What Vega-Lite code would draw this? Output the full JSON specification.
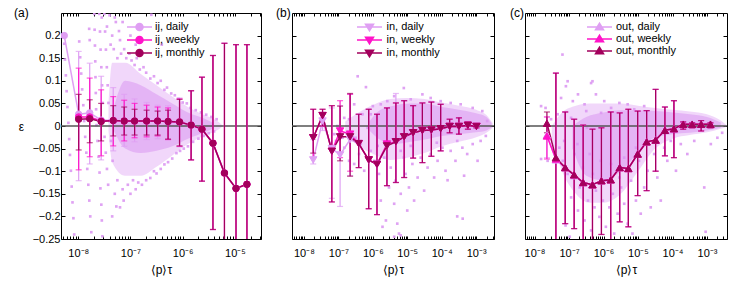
{
"$schema":"https://vega.github.io/schema/vega-lite/v6.json",
"padding":{"left":13,"top":6,"right":5,"bottom":5},
"bounds":"flush",
"spacing":31,
"resolve":{"scale":{"fill":"independent","stroke":"independent"},"legend":{"fill":"independent","stroke":"independent"}},
"config":{"font":"Liberation Sans","view":{"stroke":"#000","strokeWidth":1},
"axis":{"domain":false,"grid":false,"tickColor":"#000","tickWidth":1,"labelColor":"#000","labelFontSize":11,"titleFontSize":12,"titleFontWeight":"normal","titleColor":"#000","labelOverlap":false},
"title":{"fontSize":12,"fontWeight":"normal","anchor":"start","color":"#000","frame":"group"},
"legend":{"labelFontSize":11,"labelColor":"#000","padding":0,"rowPadding":-4,"symbolSize":100,"symbolStrokeWidth":1.5,"symbolOpacity":1}},
"datasets":{
"a_s":[
{"s":"ij, daily","x":5.4e-9,"y":0.2,"lo":null,"hi":null},
{"s":"ij, daily","x":1.02e-8,"y":0.026,"lo":-0.121,"hi":0.165},
{"s":"ij, daily","x":1.66e-8,"y":0.029,"lo":-0.084,"hi":0.139},
{"s":"ij, daily","x":2.75e-8,"y":0.013,"lo":-0.075,"hi":0.11},
{"s":"ij, daily","x":4.68e-8,"y":0.012,"lo":-0.055,"hi":0.085},
{"s":"ij, daily","x":7.59e-8,"y":0.011,"lo":-0.045,"hi":0.07},
{"s":"ij, daily","x":1.2e-7,"y":0.011,"lo":-0.035,"hi":0.06},
{"s":"ij, daily","x":2.04e-7,"y":0.011,"lo":-0.03,"hi":0.052},
{"s":"ij, daily","x":3.31e-7,"y":0.011,"lo":-0.028,"hi":0.046},
{"s":"ij, daily","x":5.25e-7,"y":0.01,"lo":-0.03,"hi":0.045},
{"s":"ij, daily","x":8.71e-7,"y":0.009,"lo":-0.046,"hi":0.062},
{"s":"ij, daily","x":1.45e-6,"y":0.002,"lo":-0.075,"hi":0.078},
{"s":"ij, daily","x":2.34e-6,"y":-0.007,"lo":-0.122,"hi":0.108},
{"s":"ij, daily","x":3.8e-6,"y":-0.038,"lo":-0.229,"hi":0.156},
{"s":"ij, daily","x":6.31e-6,"y":-0.104,"lo":-0.4,"hi":0.183},
{"s":"ij, daily","x":1.05e-5,"y":-0.138,"lo":-0.45,"hi":0.18},
{"s":"ij, daily","x":1.7e-5,"y":-0.129,"lo":-0.44,"hi":0.18},
{"s":"ij, weekly","x":1.02e-8,"y":0.02,"lo":-0.097,"hi":0.128},
{"s":"ij, weekly","x":1.66e-8,"y":0.02,"lo":-0.068,"hi":0.106},
{"s":"ij, weekly","x":2.75e-8,"y":0.011,"lo":-0.066,"hi":0.08},
{"s":"ij, weekly","x":4.68e-8,"y":0.012,"lo":-0.044,"hi":0.065},
{"s":"ij, weekly","x":7.59e-8,"y":0.011,"lo":-0.033,"hi":0.057},
{"s":"ij, weekly","x":1.2e-7,"y":0.011,"lo":-0.026,"hi":0.05},
{"s":"ij, weekly","x":2.04e-7,"y":0.011,"lo":-0.024,"hi":0.046},
{"s":"ij, weekly","x":3.31e-7,"y":0.011,"lo":-0.022,"hi":0.042},
{"s":"ij, weekly","x":5.25e-7,"y":0.01,"lo":-0.03,"hi":0.04},
{"s":"ij, weekly","x":8.71e-7,"y":0.009,"lo":-0.045,"hi":0.06},
{"s":"ij, weekly","x":1.45e-6,"y":0.002,"lo":-0.075,"hi":0.078},
{"s":"ij, weekly","x":2.34e-6,"y":-0.007,"lo":-0.122,"hi":0.108},
{"s":"ij, weekly","x":3.8e-6,"y":-0.038,"lo":-0.229,"hi":0.156},
{"s":"ij, weekly","x":6.31e-6,"y":-0.104,"lo":-0.4,"hi":0.183},
{"s":"ij, weekly","x":1.05e-5,"y":-0.138,"lo":-0.45,"hi":0.18},
{"s":"ij, weekly","x":1.7e-5,"y":-0.129,"lo":-0.44,"hi":0.18},
{"s":"ij, monthly","x":1.02e-8,"y":0.015,"lo":-0.053,"hi":0.07},
{"s":"ij, monthly","x":1.66e-8,"y":0.016,"lo":-0.037,"hi":0.058},
{"s":"ij, monthly","x":2.75e-8,"y":0.01,"lo":-0.033,"hi":0.05},
{"s":"ij, monthly","x":4.68e-8,"y":0.012,"lo":-0.022,"hi":0.045},
{"s":"ij, monthly","x":7.59e-8,"y":0.011,"lo":-0.02,"hi":0.042},
{"s":"ij, monthly","x":1.2e-7,"y":0.011,"lo":-0.02,"hi":0.037},
{"s":"ij, monthly","x":2.04e-7,"y":0.011,"lo":-0.02,"hi":0.035},
{"s":"ij, monthly","x":3.31e-7,"y":0.011,"lo":-0.02,"hi":0.033},
{"s":"ij, monthly","x":5.25e-7,"y":0.01,"lo":-0.029,"hi":0.035},
{"s":"ij, monthly","x":8.71e-7,"y":0.009,"lo":-0.044,"hi":0.059},
{"s":"ij, monthly","x":1.45e-6,"y":0.002,"lo":-0.075,"hi":0.078},
{"s":"ij, monthly","x":2.34e-6,"y":-0.007,"lo":-0.122,"hi":0.108},
{"s":"ij, monthly","x":3.8e-6,"y":-0.038,"lo":-0.229,"hi":0.156},
{"s":"ij, monthly","x":6.31e-6,"y":-0.104,"lo":-0.4,"hi":0.183},
{"s":"ij, monthly","x":1.05e-5,"y":-0.138,"lo":-0.45,"hi":0.18},
{"s":"ij, monthly","x":1.7e-5,"y":-0.129,"lo":-0.44,"hi":0.18}],
"a_out":[{"x":3.8e-8,"up":0.05,"lo":-0.01},{"x":4.47e-8,"up":0.14,"lo":-0.08},{"x":7.94e-8,"up":0.14,"lo":-0.11},{"x":1.58e-7,"up":0.115,"lo":-0.11},{"x":3.16e-7,"up":0.09,"lo":-0.09},{"x":6.31e-7,"up":0.065,"lo":-0.065},{"x":1.26e-6,"up":0.042,"lo":-0.04},{"x":2.51e-6,"up":0.025,"lo":-0.022},{"x":4.47e-6,"up":0.012,"lo":-0.01},{"x":5.62e-6,"up":0.003,"lo":-0.002}],
"a_core":[{"x":4.79e-8,"up":0.04,"lo":-0.01},{"x":7.94e-8,"up":0.1,"lo":-0.05},{"x":1.58e-7,"up":0.09,"lo":-0.06},{"x":3.16e-7,"up":0.07,"lo":-0.055},{"x":6.31e-7,"up":0.05,"lo":-0.045},{"x":1.26e-6,"up":0.03,"lo":-0.028},{"x":2.51e-6,"up":0.017,"lo":-0.015},{"x":3.98e-6,"up":0.006,"lo":-0.005}],
"a_pts":[
{"x":4.47e-8,"y":0.2},{"x":4.79e-8,"y":0.17},{"x":5.25e-8,"y":0.23},{"x":5.62e-8,"y":0.15},{"x":6.31e-8,"y":0.19},{"x":6.61e-8,"y":0.16},{"x":7.59e-8,"y":0.17},{"x":8.32e-8,"y":0.15},{"x":9.55e-8,"y":0.16},{"x":1.05e-7,"y":0.145},{"x":1.2e-7,"y":0.135},{"x":1.32e-7,"y":0.15},{"x":1.51e-7,"y":0.125},{"x":1.78e-7,"y":0.13},{"x":2.0e-7,"y":0.118},{"x":2.4e-7,"y":0.105},{"x":2.82e-7,"y":0.11},{"x":3.31e-7,"y":0.095},{"x":3.8e-7,"y":0.1},{"x":4.47e-7,"y":0.08},{"x":5.01e-7,"y":0.085},{"x":6.03e-7,"y":0.072},{"x":7.08e-7,"y":0.068},{"x":8.32e-7,"y":0.06},{"x":1e-6,"y":0.052},{"x":1.2e-6,"y":0.05},{"x":1.41e-6,"y":0.04},{"x":1.78e-6,"y":0.035},{"x":2.24e-6,"y":0.03},{"x":2.82e-6,"y":0.025},{"x":3.55e-6,"y":0.02},{"x":4.47e-6,"y":0.015},
{"x":2.82e-8,"y":0.24},{"x":3.55e-8,"y":0.22},{"x":3.98e-8,"y":0.245},{"x":4.17e-8,"y":0.18},{"x":5.01e-8,"y":0.24},{"x":2.51e-7,"y":0.246},{"x":3.98e-7,"y":0.18},{"x":1.62e-8,"y":0.215},{"x":1.66e-8,"y":0.19},{"x":6.03e-8,"y":0.21},{"x":1e-7,"y":0.2},{"x":1.26e-7,"y":0.18},{"x":7.08e-8,"y":0.23},
{"x":4.47e-8,"y":-0.2},{"x":5.01e-8,"y":-0.15},{"x":5.37e-8,"y":-0.178},{"x":5.62e-8,"y":-0.12},{"x":6.31e-8,"y":-0.18},{"x":7.08e-8,"y":-0.14},{"x":7.41e-8,"y":-0.165},{"x":8.91e-8,"y":-0.13},{"x":1e-7,"y":-0.15},{"x":1.12e-7,"y":-0.12},{"x":1.26e-7,"y":-0.14},{"x":1.41e-7,"y":-0.125},{"x":1.66e-7,"y":-0.13},{"x":2.0e-7,"y":-0.12},{"x":2.4e-7,"y":-0.115},{"x":2.82e-7,"y":-0.1},{"x":3.16e-7,"y":-0.105},{"x":3.8e-7,"y":-0.095},{"x":4.47e-7,"y":-0.085},{"x":5.25e-7,"y":-0.08},{"x":6.31e-7,"y":-0.072},{"x":7.59e-7,"y":-0.06},{"x":8.91e-7,"y":-0.055},{"x":1.05e-6,"y":-0.05},{"x":1.26e-6,"y":-0.045},{"x":1.58e-6,"y":-0.035},{"x":2.0e-6,"y":-0.028},{"x":2.51e-6,"y":-0.022},{"x":3.16e-6,"y":-0.016},{"x":3.98e-6,"y":-0.012},
{"x":5.4e-9,"y":0.182},{"x":5.57e-9,"y":0.147},{"x":5.8e-9,"y":0.112},{"x":6.0e-9,"y":0.077},{"x":6.22e-9,"y":0.042},{"x":6.48e-9,"y":0.007},{"x":6.71e-9,"y":-0.029},{"x":6.95e-9,"y":-0.064},{"x":7.24e-9,"y":-0.099},{"x":7.5e-9,"y":-0.134},{"x":7.77e-9,"y":-0.169},{"x":8.09e-9,"y":-0.204},{"x":8.38e-9,"y":-0.24},
{"x":1.045e-8,"y":0.187},{"x":1.09e-8,"y":0.152},{"x":1.14e-8,"y":0.116},{"x":1.19e-8,"y":0.081},{"x":1.25e-8,"y":0.046},{"x":1.3e-8,"y":0.011},{"x":1.36e-8,"y":-0.024},{"x":1.43e-8,"y":-0.059},{"x":1.49e-8,"y":-0.095},{"x":1.56e-8,"y":-0.13},{"x":1.63e-8,"y":-0.165},{"x":1.7e-8,"y":-0.2},{"x":1.78e-8,"y":-0.235},
{"x":2.03e-8,"y":0.248},{"x":2.06e-8,"y":0.213},{"x":2.09e-8,"y":0.178},{"x":2.12e-8,"y":0.143},{"x":2.14e-8,"y":0.108},{"x":2.17e-8,"y":0.073},{"x":2.2e-8,"y":0.037},{"x":2.24e-8,"y":0.002},{"x":2.34e-8,"y":-0.033},{"x":2.45e-8,"y":-0.068},{"x":2.56e-8,"y":-0.103},{"x":2.66e-8,"y":-0.138},{"x":2.77e-8,"y":-0.174},{"x":2.83e-8,"y":-0.209},{"x":2.9e-8,"y":-0.244},
{"x":2.53e-8,"y":0.248},{"x":2.61e-8,"y":0.209},{"x":2.68e-8,"y":0.169},{"x":2.77e-8,"y":0.13},{"x":2.86e-8,"y":0.09},{"x":2.93e-8,"y":0.051},{"x":3.03e-8,"y":0.011},{"x":3.19e-8,"y":-0.024},{"x":3.37e-8,"y":-0.059},{"x":3.55e-8,"y":-0.095},{"x":3.74e-8,"y":-0.13},
{"x":3.16e-8,"y":0.248},{"x":3.27e-8,"y":0.209},{"x":3.39e-8,"y":0.169},{"x":3.53e-8,"y":0.13},{"x":3.66e-8,"y":0.09},{"x":3.79e-8,"y":0.051},{"x":3.95e-8,"y":0.011},{"x":4.23e-8,"y":-0.033},{"x":4.55e-8,"y":-0.077}],
"b_s":[
{"s":"in, daily","x":1.86e-8,"y":-0.075,"lo":-0.084,"hi":-0.03},
{"s":"in, daily","x":3.47e-8,"y":0.011,"lo":-0.01,"hi":0.03},
{"s":"in, daily","x":6.46e-8,"y":-0.05,"lo":-0.16,"hi":0.04},
{"s":"in, daily","x":1.12e-7,"y":-0.064,"lo":-0.178,"hi":0.045},
{"s":"in, daily","x":2.19e-7,"y":-0.03,"lo":-0.11,"hi":0.07},
{"s":"in, daily","x":3.89e-7,"y":-0.039,"lo":-0.092,"hi":0.026},
{"s":"in, daily","x":7.59e-7,"y":-0.075,"lo":-0.183,"hi":0.037},
{"s":"in, daily","x":1.32e-6,"y":-0.085,"lo":-0.196,"hi":0.026},
{"s":"in, daily","x":2.57e-6,"y":-0.044,"lo":-0.132,"hi":0.04},
{"s":"in, daily","x":4.68e-6,"y":-0.035,"lo":-0.125,"hi":0.072},
{"s":"in, daily","x":8.13e-6,"y":-0.024,"lo":-0.114,"hi":0.056},
{"s":"in, daily","x":1.48e-5,"y":-0.015,"lo":-0.071,"hi":0.045},
{"s":"in, daily","x":2.75e-5,"y":-0.01,"lo":-0.081,"hi":0.051},
{"s":"in, daily","x":5.01e-5,"y":-0.009,"lo":-0.067,"hi":0.053},
{"s":"in, daily","x":9.33e-5,"y":-0.006,"lo":-0.055,"hi":0.048},
{"s":"in, daily","x":1.7e-4,"y":-0.001,"lo":-0.015,"hi":0.015},
{"s":"in, daily","x":3.16e-4,"y":-0.001,"lo":-0.018,"hi":0.018},
{"s":"in, daily","x":5.75e-4,"y":0.0015,"lo":-0.007,"hi":0.009},
{"s":"in, daily","x":1.02e-3,"y":-0.001,"lo":-0.004,"hi":0.004},
{"s":"in, weekly","x":1.86e-8,"y":-0.026,"lo":-0.07,"hi":0.037},
{"s":"in, weekly","x":3.47e-8,"y":0.023,"lo":0.0,"hi":0.037},
{"s":"in, weekly","x":6.46e-8,"y":-0.056,"lo":-0.168,"hi":0.045},
{"s":"in, weekly","x":1.12e-7,"y":-0.011,"lo":-0.07,"hi":0.056},
{"s":"in, weekly","x":2.19e-7,"y":-0.018,"lo":-0.1,"hi":0.07},
{"s":"in, weekly","x":3.89e-7,"y":-0.039,"lo":-0.092,"hi":0.026},
{"s":"in, weekly","x":7.59e-7,"y":-0.075,"lo":-0.183,"hi":0.037},
{"s":"in, weekly","x":1.32e-6,"y":-0.085,"lo":-0.196,"hi":0.026},
{"s":"in, weekly","x":2.57e-6,"y":-0.04,"lo":-0.132,"hi":0.04},
{"s":"in, weekly","x":4.68e-6,"y":-0.035,"lo":-0.125,"hi":0.051},
{"s":"in, weekly","x":8.13e-6,"y":-0.024,"lo":-0.114,"hi":0.056},
{"s":"in, weekly","x":1.48e-5,"y":-0.015,"lo":-0.071,"hi":0.045},
{"s":"in, weekly","x":2.75e-5,"y":-0.01,"lo":-0.081,"hi":0.051},
{"s":"in, weekly","x":5.01e-5,"y":-0.009,"lo":-0.067,"hi":0.053},
{"s":"in, weekly","x":9.33e-5,"y":-0.006,"lo":-0.055,"hi":0.048},
{"s":"in, weekly","x":1.7e-4,"y":-0.001,"lo":-0.015,"hi":0.015},
{"s":"in, weekly","x":3.16e-4,"y":-0.001,"lo":-0.018,"hi":0.018},
{"s":"in, weekly","x":5.75e-4,"y":0.0015,"lo":-0.007,"hi":0.009},
{"s":"in, weekly","x":1.02e-3,"y":-0.001,"lo":-0.004,"hi":0.004},
{"s":"in, monthly","x":1.86e-8,"y":-0.026,"lo":-0.06,"hi":0.037},
{"s":"in, monthly","x":3.47e-8,"y":0.023,"lo":0.0,"hi":0.037},
{"s":"in, monthly","x":6.46e-8,"y":-0.056,"lo":-0.168,"hi":0.045},
{"s":"in, monthly","x":1.12e-7,"y":-0.024,"lo":-0.077,"hi":0.044},
{"s":"in, monthly","x":2.19e-7,"y":-0.024,"lo":-0.111,"hi":0.072},
{"s":"in, monthly","x":3.89e-7,"y":-0.039,"lo":-0.092,"hi":0.026},
{"s":"in, monthly","x":7.59e-7,"y":-0.075,"lo":-0.183,"hi":0.037},
{"s":"in, monthly","x":1.32e-6,"y":-0.085,"lo":-0.196,"hi":0.026},
{"s":"in, monthly","x":2.57e-6,"y":-0.044,"lo":-0.132,"hi":0.04},
{"s":"in, monthly","x":4.68e-6,"y":-0.035,"lo":-0.125,"hi":0.051},
{"s":"in, monthly","x":8.13e-6,"y":-0.024,"lo":-0.114,"hi":0.056},
{"s":"in, monthly","x":1.48e-5,"y":-0.015,"lo":-0.071,"hi":0.045},
{"s":"in, monthly","x":2.75e-5,"y":-0.01,"lo":-0.081,"hi":0.051},
{"s":"in, monthly","x":5.01e-5,"y":-0.009,"lo":-0.067,"hi":0.053},
{"s":"in, monthly","x":9.33e-5,"y":-0.006,"lo":-0.055,"hi":0.048},
{"s":"in, monthly","x":1.7e-4,"y":-0.001,"lo":-0.015,"hi":0.015},
{"s":"in, monthly","x":3.16e-4,"y":-0.001,"lo":-0.018,"hi":0.018},
{"s":"in, monthly","x":5.75e-4,"y":0.0015,"lo":-0.007,"hi":0.009},
{"s":"in, monthly","x":1.02e-3,"y":-0.001,"lo":-0.004,"hi":0.004}],
"b_out":[{"x":1.58e-7,"up":0.01,"lo":-0.02},{"x":5.01e-7,"up":0.035,"lo":-0.05},{"x":1.26e-6,"up":0.05,"lo":-0.065},{"x":3.16e-6,"up":0.06,"lo":-0.075},{"x":1e-5,"up":0.062,"lo":-0.07},{"x":3.16e-5,"up":0.06,"lo":-0.06},{"x":1e-4,"up":0.052,"lo":-0.045},{"x":3.16e-4,"up":0.045,"lo":-0.035},{"x":1e-3,"up":0.036,"lo":-0.025},{"x":2.24e-3,"up":0.02,"lo":-0.012},{"x":3.02e-3,"up":0.006,"lo":-0.004}],
"b_core":[{"x":7.94e-7,"up":0.01,"lo":-0.01},{"x":1.58e-6,"up":0.035,"lo":-0.03},{"x":3.98e-6,"up":0.045,"lo":-0.04},{"x":1.26e-5,"up":0.05,"lo":-0.035},{"x":3.16e-5,"up":0.05,"lo":-0.03},{"x":1e-4,"up":0.042,"lo":-0.022},{"x":3.16e-4,"up":0.036,"lo":-0.018},{"x":1e-3,"up":0.028,"lo":-0.014},{"x":2e-3,"up":0.02,"lo":-0.01},{"x":2.82e-3,"up":0.006,"lo":-0.003}],
"b_pts":[
{"x":3.63e-7,"y":0.11},{"x":6.31e-7,"y":0.086},{"x":7.94e-6,"y":0.084},{"x":2.88e-7,"y":0.048},{"x":5.01e-7,"y":0.026},{"x":1e-6,"y":0.044},{"x":1.7e-6,"y":0.048},{"x":2.63e-6,"y":0.055},{"x":4.17e-6,"y":0.066},{"x":1.26e-5,"y":0.059},{"x":2.75e-5,"y":0.07},{"x":4.79e-5,"y":0.062},{"x":9.33e-5,"y":0.055},{"x":1.82e-4,"y":0.051},{"x":3.55e-4,"y":0.048},{"x":7.94e-4,"y":0.04},{"x":1.51e-3,"y":0.033},{"x":2.09e-3,"y":0.011},{"x":1.48e-7,"y":0.018},{"x":9.33e-8,"y":0.0},
{"x":8.51e-8,"y":-0.033},{"x":1.48e-7,"y":-0.048},{"x":2.04e-7,"y":-0.077},{"x":2.88e-7,"y":-0.084},{"x":3.98e-7,"y":-0.062},{"x":5.62e-7,"y":-0.099},{"x":8.71e-7,"y":-0.055},{"x":1.1e-6,"y":-0.077},{"x":1.51e-6,"y":-0.106},{"x":1.7e-6,"y":-0.165},{"x":2.14e-6,"y":-0.07},{"x":2.4e-6,"y":-0.209},{"x":2.95e-6,"y":-0.136},{"x":3.31e-6,"y":-0.092},{"x":4.17e-6,"y":-0.172},{"x":4.57e-6,"y":-0.121},{"x":5.13e-6,"y":-0.216},{"x":5.75e-6,"y":-0.238},{"x":6.46e-6,"y":-0.15},{"x":7.94e-6,"y":-0.07},{"x":8.91e-6,"y":-0.106},{"x":1e-5,"y":-0.187},{"x":1.12e-5,"y":-0.136},{"x":1.41e-5,"y":-0.084},{"x":1.58e-5,"y":-0.165},{"x":2.0e-5,"y":-0.114},{"x":2.45e-5,"y":-0.07},{"x":3.09e-5,"y":-0.143},{"x":3.89e-5,"y":-0.092},{"x":4.79e-5,"y":-0.062},{"x":6.03e-5,"y":-0.114},{"x":7.59e-5,"y":-0.077},{"x":1.05e-4,"y":-0.048},{"x":1.29e-4,"y":-0.099},{"x":1.82e-4,"y":-0.055},{"x":2.51e-4,"y":-0.077},{"x":2.82e-4,"y":-0.2},{"x":3.98e-4,"y":-0.048},{"x":4.47e-4,"y":-0.11},{"x":5.5e-4,"y":-0.062},{"x":7.94e-4,"y":-0.04},{"x":1.1e-3,"y":-0.077},{"x":1.35e-3,"y":-0.033},{"x":1.91e-3,"y":-0.022},
{"x":1.38e-6,"y":-0.044},{"x":6.46e-6,"y":-0.055},{"x":1.26e-5,"y":-0.044},{"x":7.2e-5,"y":-0.037},{"x":2.82e-4,"y":-0.033},{"x":1.91e-6,"y":-0.223},{"x":4.17e-6,"y":-0.245},{"x":6.46e-6,"y":-0.242},{"x":7.59e-8,"y":-0.018},{"x":1.32e-7,"y":-0.026},{"x":2.04e-7,"y":0.015},{"x":3.16e-7,"y":-0.026},{"x":4.47e-7,"y":-0.04},{"x":7.08e-7,"y":-0.004},{"x":8.71e-7,"y":0.026},{"x":4.07e-4,"y":-0.205},{"x":1.48e-4,"y":-0.12}],
"c_s":[
{"s":"out, daily","x":2.29e-8,"y":-0.02,"lo":-0.07,"hi":0.02},
{"s":"out, daily","x":4.17e-8,"y":-0.075,"lo":-0.4,"hi":0.117},
{"s":"out, daily","x":7.76e-8,"y":-0.092,"lo":-0.216,"hi":0.031},
{"s":"out, daily","x":1.41e-7,"y":-0.11,"lo":-0.227,"hi":0.015},
{"s":"out, daily","x":2.57e-7,"y":-0.125,"lo":-0.26,"hi":0.002},
{"s":"out, daily","x":4.79e-7,"y":-0.13,"lo":-0.3,"hi":-0.007},
{"s":"out, daily","x":8.71e-7,"y":-0.121,"lo":-0.24,"hi":-0.004},
{"s":"out, daily","x":1.62e-6,"y":-0.119,"lo":-0.3,"hi":0.031},
{"s":"out, daily","x":2.95e-6,"y":-0.092,"lo":-0.212,"hi":0.029},
{"s":"out, daily","x":5.25e-6,"y":-0.094,"lo":-0.223,"hi":0.037},
{"s":"out, daily","x":9.77e-6,"y":-0.062,"lo":-0.154,"hi":0.033},
{"s":"out, daily","x":1.78e-5,"y":-0.035,"lo":-0.143,"hi":0.034},
{"s":"out, daily","x":3.24e-5,"y":-0.031,"lo":-0.1,"hi":0.081},
{"s":"out, daily","x":6.03e-5,"y":-0.0095,"lo":-0.066,"hi":0.042},
{"s":"out, daily","x":1.1e-4,"y":-0.006,"lo":-0.07,"hi":0.056},
{"s":"out, daily","x":2.04e-4,"y":0.004,"lo":-0.007,"hi":0.009},
{"s":"out, daily","x":3.72e-4,"y":0.004,"lo":-0.004,"hi":0.007},
{"s":"out, daily","x":6.76e-4,"y":0.004,"lo":-0.011,"hi":0.012},
{"s":"out, daily","x":1.26e-3,"y":0.004,"lo":-0.004,"hi":0.007},
{"s":"out, weekly","x":2.29e-8,"y":-0.022,"lo":-0.073,"hi":0.02},
{"s":"out, weekly","x":4.17e-8,"y":-0.073,"lo":-0.4,"hi":0.117},
{"s":"out, weekly","x":7.76e-8,"y":-0.092,"lo":-0.216,"hi":0.031},
{"s":"out, weekly","x":1.41e-7,"y":-0.108,"lo":-0.227,"hi":0.015},
{"s":"out, weekly","x":2.57e-7,"y":-0.125,"lo":-0.26,"hi":0.002},
{"s":"out, weekly","x":4.79e-7,"y":-0.13,"lo":-0.3,"hi":-0.007},
{"s":"out, weekly","x":8.71e-7,"y":-0.121,"lo":-0.24,"hi":-0.004},
{"s":"out, weekly","x":1.62e-6,"y":-0.119,"lo":-0.3,"hi":0.031},
{"s":"out, weekly","x":2.95e-6,"y":-0.092,"lo":-0.212,"hi":0.029},
{"s":"out, weekly","x":5.25e-6,"y":-0.094,"lo":-0.223,"hi":0.037},
{"s":"out, weekly","x":9.77e-6,"y":-0.062,"lo":-0.154,"hi":0.033},
{"s":"out, weekly","x":1.78e-5,"y":-0.035,"lo":-0.143,"hi":0.034},
{"s":"out, weekly","x":3.24e-5,"y":-0.031,"lo":-0.1,"hi":0.081},
{"s":"out, weekly","x":6.03e-5,"y":-0.0095,"lo":-0.066,"hi":0.042},
{"s":"out, weekly","x":1.1e-4,"y":-0.006,"lo":-0.07,"hi":0.056},
{"s":"out, weekly","x":2.04e-4,"y":0.004,"lo":-0.007,"hi":0.009},
{"s":"out, weekly","x":3.72e-4,"y":0.004,"lo":-0.004,"hi":0.007},
{"s":"out, weekly","x":6.76e-4,"y":0.004,"lo":-0.011,"hi":0.012},
{"s":"out, weekly","x":1.26e-3,"y":0.004,"lo":-0.004,"hi":0.007},
{"s":"out, monthly","x":2.29e-8,"y":0.006,"lo":-0.015,"hi":0.031},
{"s":"out, monthly","x":4.17e-8,"y":-0.07,"lo":-0.4,"hi":0.117},
{"s":"out, monthly","x":7.76e-8,"y":-0.092,"lo":-0.216,"hi":0.031},
{"s":"out, monthly","x":1.41e-7,"y":-0.108,"lo":-0.227,"hi":0.015},
{"s":"out, monthly","x":2.57e-7,"y":-0.125,"lo":-0.26,"hi":0.002},
{"s":"out, monthly","x":4.79e-7,"y":-0.13,"lo":-0.3,"hi":-0.007},
{"s":"out, monthly","x":8.71e-7,"y":-0.121,"lo":-0.24,"hi":-0.004},
{"s":"out, monthly","x":1.62e-6,"y":-0.119,"lo":-0.3,"hi":0.031},
{"s":"out, monthly","x":2.95e-6,"y":-0.092,"lo":-0.212,"hi":0.029},
{"s":"out, monthly","x":5.25e-6,"y":-0.094,"lo":-0.223,"hi":0.037},
{"s":"out, monthly","x":9.77e-6,"y":-0.062,"lo":-0.154,"hi":0.033},
{"s":"out, monthly","x":1.78e-5,"y":-0.035,"lo":-0.143,"hi":0.034},
{"s":"out, monthly","x":3.24e-5,"y":-0.031,"lo":-0.1,"hi":0.081},
{"s":"out, monthly","x":6.03e-5,"y":-0.0095,"lo":-0.066,"hi":0.042},
{"s":"out, monthly","x":1.1e-4,"y":-0.006,"lo":-0.07,"hi":0.056},
{"s":"out, monthly","x":2.04e-4,"y":0.004,"lo":-0.007,"hi":0.009},
{"s":"out, monthly","x":3.72e-4,"y":0.004,"lo":-0.004,"hi":0.007},
{"s":"out, monthly","x":6.76e-4,"y":0.004,"lo":-0.011,"hi":0.012},
{"s":"out, monthly","x":1.26e-3,"y":0.004,"lo":-0.004,"hi":0.007}],
"c_out":[{"x":3.16e-8,"up":0.0,"lo":-0.03},{"x":6.31e-8,"up":0.03,"lo":-0.1},{"x":1.58e-7,"up":0.045,"lo":-0.15},{"x":3.98e-7,"up":0.05,"lo":-0.17},{"x":1e-6,"up":0.05,"lo":-0.17},{"x":3.16e-6,"up":0.05,"lo":-0.15},{"x":1e-5,"up":0.045,"lo":-0.1},{"x":3.16e-5,"up":0.04,"lo":-0.05},{"x":1e-4,"up":0.036,"lo":-0.028},{"x":3.16e-4,"up":0.032,"lo":-0.02},{"x":1e-3,"up":0.026,"lo":-0.014},{"x":2.51e-3,"up":0.012,"lo":-0.006},{"x":3.55e-3,"up":0.003,"lo":-0.002}],
"c_core":[{"x":1.26e-7,"up":0.0,"lo":-0.05},{"x":3.16e-7,"up":0.02,"lo":-0.11},{"x":1e-6,"up":0.03,"lo":-0.12},{"x":3.16e-6,"up":0.035,"lo":-0.1},{"x":1e-5,"up":0.035,"lo":-0.06},{"x":3.16e-5,"up":0.033,"lo":-0.025},{"x":1e-4,"up":0.03,"lo":-0.018},{"x":3.16e-4,"up":0.026,"lo":-0.015},{"x":1e-3,"up":0.02,"lo":-0.01},{"x":2.51e-3,"up":0.008,"lo":-0.004}],
"c_pts":[
{"x":1.55e-8,"y":0.044},{"x":9.12e-8,"y":0.099},{"x":8.13e-8,"y":0.088},{"x":4.37e-7,"y":0.095},{"x":5.89e-8,"y":0.062},{"x":1.29e-7,"y":0.055},{"x":1.82e-7,"y":0.07},{"x":2.82e-7,"y":0.048},{"x":6.03e-7,"y":0.07},{"x":1.05e-6,"y":0.055},{"x":1.66e-6,"y":0.04},{"x":2.88e-6,"y":0.051},{"x":5.01e-6,"y":0.048},{"x":7.76e-6,"y":0.037},{"x":1.51e-5,"y":0.044},{"x":3.16e-7,"y":0.033},{"x":8.51e-7,"y":0.029},{"x":4.68e-8,"y":0.026},{"x":1.15e-7,"y":0.018},{"x":3.02e-8,"y":0.015},{"x":6.46e-8,"y":0.158},{"x":4.79e-7,"y":0.099},{"x":2.09e-8,"y":0.04},
{"x":1.55e-8,"y":-0.073},{"x":2.4e-8,"y":-0.077},{"x":5.25e-8,"y":-0.048},{"x":6.61e-8,"y":-0.077},{"x":7.24e-8,"y":-0.033},{"x":9.12e-8,"y":-0.106},{"x":1.15e-7,"y":-0.158},{"x":1.45e-7,"y":-0.062},{"x":1.82e-7,"y":-0.187},{"x":2.04e-7,"y":-0.136},{"x":2.51e-7,"y":-0.092},{"x":2.82e-7,"y":-0.209},{"x":3.55e-7,"y":-0.165},{"x":4.37e-7,"y":-0.231},{"x":5.5e-7,"y":-0.18},{"x":6.03e-7,"y":-0.143},{"x":7.59e-7,"y":-0.201},{"x":9.55e-7,"y":-0.165},{"x":1.17e-6,"y":-0.223},{"x":1.48e-6,"y":-0.18},{"x":1.86e-6,"y":-0.15},{"x":2.04e-6,"y":-0.238},{"x":2.57e-6,"y":-0.194},{"x":3.24e-6,"y":-0.136},{"x":3.98e-6,"y":-0.172},{"x":5.01e-6,"y":-0.216},{"x":6.31e-6,"y":-0.121},{"x":6.92e-6,"y":-0.238},{"x":8.71e-6,"y":-0.165},{"x":1.07e-5,"y":-0.077},{"x":1.2e-5,"y":-0.194},{"x":1.51e-5,"y":-0.136},{"x":1.91e-5,"y":-0.099},{"x":2.34e-5,"y":-0.18},{"x":2.95e-5,"y":-0.062},{"x":3.63e-5,"y":-0.114},{"x":4.57e-5,"y":-0.165},{"x":5.75e-5,"y":-0.048},{"x":7.08e-5,"y":-0.077},{"x":8.91e-5,"y":-0.033},{"x":1.26e-4,"y":-0.099},{"x":1.74e-4,"y":-0.04},{"x":2.69e-4,"y":-0.062},{"x":4.27e-4,"y":-0.033},{"x":8.32e-4,"y":-0.136},{"x":9.12e-4,"y":-0.234},{"x":1.29e-3,"y":-0.04},{"x":2.0e-3,"y":-0.026},{"x":2.75e-3,"y":-0.015},
{"x":1.75e-7,"y":-0.04},{"x":3.3e-7,"y":-0.004},{"x":3.98e-7,"y":-0.062},{"x":4.9e-7,"y":-0.106},{"x":8.3e-7,"y":-0.077},{"x":1.17e-6,"y":-0.121},{"x":1.66e-6,"y":-0.084},{"x":2.88e-6,"y":-0.114},{"x":3.98e-6,"y":-0.07},{"x":8.71e-6,"y":-0.048},{"x":7.94e-8,"y":-0.22},{"x":1.05e-7,"y":-0.245}]
},
"hconcat":[
{"width":200,"height":226,
"title":{"text":"(a)","dx":-47,"dy":12,"baseline":"middle","offset":0},
"layer":[
{"data":{"name":"a_out"},"mark":{"type":"area","color":"#dc9cf2","opacity":0.4,"interpolate":"monotone","clip":true},
"encoding":{"x":{"field":"x","type":"quantitative","scale":{"type":"log","domain":[4.68e-9,3.16e-5],"nice":false},"axis":null},"y":{"field":"up","type":"quantitative","scale":{"domain":[-0.25,0.25],"nice":false,"zero":false},"axis":null},"y2":{"field":"lo"}}},
{"data":{"name":"a_core"},"mark":{"type":"area","color":"#dc9cf2","opacity":0.6,"interpolate":"monotone","clip":true},
"encoding":{"x":{"field":"x","type":"quantitative","scale":{"type":"log","domain":[4.68e-9,3.16e-5],"nice":false},"axis":null},"y":{"field":"up","type":"quantitative","scale":{"domain":[-0.25,0.25],"nice":false,"zero":false},"axis":null},"y2":{"field":"lo"}}},
{"data":{"name":"a_pts"},"mark":{"type":"point","shape":"square","filled":true,"size":7,"color":"#dc98f2","opacity":0.9,"clip":true},
"encoding":{"x":{"field":"x","type":"quantitative","scale":{"type":"log","domain":[4.68e-9,3.16e-5],"nice":false},
"axis":{"orient":"bottom","values":[5e-9,6e-9,7e-9,8e-9,9e-9,1e-8,2e-8,3e-8,4e-8,5e-8,6e-8,7e-8,8e-8,9e-8,1e-7,2e-7,3e-7,4e-7,5e-7,6e-7,7e-7,8e-7,9e-7,1e-6,2e-6,3e-6,4e-6,5e-6,6e-6,7e-6,8e-6,9e-6,1e-5,2e-5,3e-5],"labelExpr":"datum.value==1e-8?'10⁻⁸':datum.value==1e-7?'10⁻⁷':datum.value==1e-6?'10⁻⁶':datum.value==1e-5?'10⁻⁵':datum.value==1e-4?'10⁻⁴':datum.value==1e-3?'10⁻³':''","tickSize":-3,"labelPadding":11,"title":"⟨p⟩τ","titlePadding":6}},
"y":{"field":"y","type":"quantitative","scale":{"domain":[-0.25,0.25],"nice":false,"zero":false},
"axis":{"orient":"left","values":[-0.25,-0.2,-0.15,-0.1,-0.05,0,0.05,0.1,0.15,0.2],"format":"~g","tickSize":-4,"labelPadding":5,"title":"ε","titleAngle":0,"titleBaseline":"middle","titleAlign":"center","titleX":-40,"titleY":113}}}},
{"data":{"values":[{}]},"mark":{"type":"rule","color":"#555","strokeWidth":1.3},"encoding":{"y":{"datum":0,"type":"quantitative","scale":{"domain":[-0.25,0.25],"nice":false,"zero":false},"axis":null}}},
{"data":{"name":"a_s"},"transform":[{"filter":"datum.s=='ij, daily'"}],"encoding":{"x":{"field":"x","type":"quantitative","scale":{"type":"log","domain":[4.68e-9,3.16e-5],"nice":false},"axis":null},"color":{"value":"#df9ff3"}},
"layer":[
{"mark":{"type":"rule","strokeWidth":1.2,"clip":true},"encoding":{"y":{"field":"lo","type":"quantitative","scale":{"domain":[-0.25,0.25],"nice":false,"zero":false},"axis":null},"y2":{"field":"hi"}}},
{"mark":{"type":"tick","orient":"horizontal","size":6,"thickness":1.2,"clip":true},"encoding":{"y":{"field":"lo","type":"quantitative","scale":{"domain":[-0.25,0.25],"nice":false,"zero":false},"axis":null}}},
{"mark":{"type":"tick","orient":"horizontal","size":6,"thickness":1.2,"clip":true},"encoding":{"y":{"field":"hi","type":"quantitative","scale":{"domain":[-0.25,0.25],"nice":false,"zero":false},"axis":null}}},
{"mark":{"type":"line","strokeWidth":1.5,"clip":true},"encoding":{"y":{"field":"y","type":"quantitative","scale":{"domain":[-0.25,0.25],"nice":false,"zero":false},"axis":null}}}]},
{"data":{"name":"a_s"},"transform":[{"filter":"datum.s=='ij, weekly'"}],"encoding":{"x":{"field":"x","type":"quantitative","scale":{"type":"log","domain":[4.68e-9,3.16e-5],"nice":false},"axis":null},"color":{"value":"#ff14c8"}},
"layer":[
{"mark":{"type":"rule","strokeWidth":1.2,"clip":true},"encoding":{"y":{"field":"lo","type":"quantitative","scale":{"domain":[-0.25,0.25],"nice":false,"zero":false},"axis":null},"y2":{"field":"hi"}}},
{"mark":{"type":"tick","orient":"horizontal","size":6,"thickness":1.2,"clip":true},"encoding":{"y":{"field":"lo","type":"quantitative","scale":{"domain":[-0.25,0.25],"nice":false,"zero":false},"axis":null}}},
{"mark":{"type":"tick","orient":"horizontal","size":6,"thickness":1.2,"clip":true},"encoding":{"y":{"field":"hi","type":"quantitative","scale":{"domain":[-0.25,0.25],"nice":false,"zero":false},"axis":null}}},
{"mark":{"type":"line","strokeWidth":1.5,"clip":true},"encoding":{"y":{"field":"y","type":"quantitative","scale":{"domain":[-0.25,0.25],"nice":false,"zero":false},"axis":null}}}]},
{"data":{"name":"a_s"},"transform":[{"filter":"datum.s=='ij, monthly'"}],"encoding":{"x":{"field":"x","type":"quantitative","scale":{"type":"log","domain":[4.68e-9,3.16e-5],"nice":false},"axis":null},"color":{"value":"#a3005c"}},
"layer":[
{"mark":{"type":"rule","strokeWidth":1.2,"clip":true},"encoding":{"y":{"field":"lo","type":"quantitative","scale":{"domain":[-0.25,0.25],"nice":false,"zero":false},"axis":null},"y2":{"field":"hi"}}},
{"mark":{"type":"tick","orient":"horizontal","size":6,"thickness":1.2,"clip":true},"encoding":{"y":{"field":"lo","type":"quantitative","scale":{"domain":[-0.25,0.25],"nice":false,"zero":false},"axis":null}}},
{"mark":{"type":"tick","orient":"horizontal","size":6,"thickness":1.2,"clip":true},"encoding":{"y":{"field":"hi","type":"quantitative","scale":{"domain":[-0.25,0.25],"nice":false,"zero":false},"axis":null}}},
{"mark":{"type":"line","strokeWidth":1.5,"clip":true},"encoding":{"y":{"field":"y","type":"quantitative","scale":{"domain":[-0.25,0.25],"nice":false,"zero":false},"axis":null}}}]},
{"data":{"name":"a_s"},"mark":{"type":"point","filled":true,"size":42,"opacity":1,"strokeWidth":1,"clip":true},
"encoding":{"x":{"field":"x","type":"quantitative","scale":{"type":"log","domain":[4.68e-9,3.16e-5],"nice":false},"axis":null},"y":{"field":"y","type":"quantitative","scale":{"domain":[-0.25,0.25],"nice":false,"zero":false},"axis":null},
"fill":{"field":"s","type":"nominal","scale":{"domain":["ij, daily","ij, weekly","ij, monthly"],"range":["#df9ff3","#ff14c8","#a3005c"]},"legend":{"title":null,"orient":"none","legendX":72.5,"legendY":8,"symbolType":"M-2.5,0L2.5,0M-0.7,0A0.7,0.7,0,1,0,0.7,0A0.7,0.7,0,1,0,-0.7,0Z","labelOffset":9.5}},
"stroke":{"field":"s","type":"nominal","scale":{"domain":["ij, daily","ij, weekly","ij, monthly"],"range":["#df9ff3","#ff14c8","#a3005c"]},"legend":{"title":null,"orient":"none","legendX":72.5,"legendY":8,"symbolType":"M-2.5,0L2.5,0M-0.7,0A0.7,0.7,0,1,0,0.7,0A0.7,0.7,0,1,0,-0.7,0Z","labelOffset":9.5}}}},
{"data":{"name":"a_s"},"mark":{"type":"point","opacity":0},
"encoding":{"x":{"field":"x","type":"quantitative","scale":{"type":"log","domain":[4.68e-9,3.16e-5],"nice":false},"axis":{"orient":"top","values":[5e-9,6e-9,7e-9,8e-9,9e-9,1e-8,2e-8,3e-8,4e-8,5e-8,6e-8,7e-8,8e-8,9e-8,1e-7,2e-7,3e-7,4e-7,5e-7,6e-7,7e-7,8e-7,9e-7,1e-6,2e-6,3e-6,4e-6,5e-6,6e-6,7e-6,8e-6,9e-6,1e-5,2e-5,3e-5],"labels":false,"tickSize":-3,"title":null}},
"y":{"field":"y","type":"quantitative","scale":{"domain":[-0.25,0.25],"nice":false,"zero":false},"axis":{"orient":"right","values":[-0.25,-0.2,-0.15,-0.1,-0.05,0,0.05,0.1,0.15,0.2],"labels":false,"tickSize":-4,"title":null}}}}
],
"resolve":{"axis":{"x":"independent","y":"independent"}}},
{"width":202,"height":226,
"title":{"text":"(b)","dx":-16,"dy":12,"baseline":"middle","offset":0},
"layer":[
{"data":{"name":"b_out"},"mark":{"type":"area","color":"#dc9cf2","opacity":0.4,"interpolate":"monotone","clip":true},
"encoding":{"x":{"field":"x","type":"quantitative","scale":{"type":"log","domain":[4.5e-9,3.3e-3],"nice":false},"axis":null},"y":{"field":"up","type":"quantitative","scale":{"domain":[-0.25,0.25],"nice":false,"zero":false},"axis":null},"y2":{"field":"lo"}}},
{"data":{"name":"b_core"},"mark":{"type":"area","color":"#dc9cf2","opacity":0.6,"interpolate":"monotone","clip":true},
"encoding":{"x":{"field":"x","type":"quantitative","scale":{"type":"log","domain":[4.5e-9,3.3e-3],"nice":false},"axis":null},"y":{"field":"up","type":"quantitative","scale":{"domain":[-0.25,0.25],"nice":false,"zero":false},"axis":null},"y2":{"field":"lo"}}},
{"data":{"name":"b_pts"},"mark":{"type":"point","shape":"square","filled":true,"size":7,"color":"#dc98f2","opacity":0.9,"clip":true},
"encoding":{"x":{"field":"x","type":"quantitative","scale":{"type":"log","domain":[4.5e-9,3.3e-3],"nice":false},
"axis":{"orient":"bottom","values":[5e-9,6e-9,7e-9,8e-9,9e-9,1e-8,2e-8,3e-8,4e-8,5e-8,6e-8,7e-8,8e-8,9e-8,1e-7,2e-7,3e-7,4e-7,5e-7,6e-7,7e-7,8e-7,9e-7,1e-6,2e-6,3e-6,4e-6,5e-6,6e-6,7e-6,8e-6,9e-6,1e-5,2e-5,3e-5,4e-5,5e-5,6e-5,7e-5,8e-5,9e-5,1e-4,2e-4,3e-4,4e-4,5e-4,6e-4,7e-4,8e-4,9e-4,1e-3,2e-3,3e-3],"labelExpr":"datum.value==1e-8?'10⁻⁸':datum.value==1e-7?'10⁻⁷':datum.value==1e-6?'10⁻⁶':datum.value==1e-5?'10⁻⁵':datum.value==1e-4?'10⁻⁴':datum.value==1e-3?'10⁻³':''","tickSize":-3,"labelPadding":11,"title":"⟨p⟩τ","titlePadding":6}},
"y":{"field":"y","type":"quantitative","scale":{"domain":[-0.25,0.25],"nice":false,"zero":false},
"axis":{"orient":"left","values":[-0.25,-0.2,-0.15,-0.1,-0.05,0,0.05,0.1,0.15,0.2],"labels":false,"tickSize":-4,"title":null}}}},
{"data":{"values":[{}]},"mark":{"type":"rule","color":"#555","strokeWidth":1.3},"encoding":{"y":{"datum":0,"type":"quantitative","scale":{"domain":[-0.25,0.25],"nice":false,"zero":false},"axis":null}}},
{"data":{"name":"b_s"},"transform":[{"filter":"datum.s=='in, daily'"}],"encoding":{"x":{"field":"x","type":"quantitative","scale":{"type":"log","domain":[4.5e-9,3.3e-3],"nice":false},"axis":null},"color":{"value":"#df9ff3"}},
"layer":[
{"mark":{"type":"rule","strokeWidth":1.2,"clip":true},"encoding":{"y":{"field":"lo","type":"quantitative","scale":{"domain":[-0.25,0.25],"nice":false,"zero":false},"axis":null},"y2":{"field":"hi"}}},
{"mark":{"type":"tick","orient":"horizontal","size":6,"thickness":1.2,"clip":true},"encoding":{"y":{"field":"lo","type":"quantitative","scale":{"domain":[-0.25,0.25],"nice":false,"zero":false},"axis":null}}},
{"mark":{"type":"tick","orient":"horizontal","size":6,"thickness":1.2,"clip":true},"encoding":{"y":{"field":"hi","type":"quantitative","scale":{"domain":[-0.25,0.25],"nice":false,"zero":false},"axis":null}}},
{"mark":{"type":"line","strokeWidth":1.5,"clip":true},"encoding":{"y":{"field":"y","type":"quantitative","scale":{"domain":[-0.25,0.25],"nice":false,"zero":false},"axis":null}}}]},
{"data":{"name":"b_s"},"transform":[{"filter":"datum.s=='in, weekly'"}],"encoding":{"x":{"field":"x","type":"quantitative","scale":{"type":"log","domain":[4.5e-9,3.3e-3],"nice":false},"axis":null},"color":{"value":"#ff14c8"}},
"layer":[
{"mark":{"type":"rule","strokeWidth":1.2,"clip":true},"encoding":{"y":{"field":"lo","type":"quantitative","scale":{"domain":[-0.25,0.25],"nice":false,"zero":false},"axis":null},"y2":{"field":"hi"}}},
{"mark":{"type":"tick","orient":"horizontal","size":6,"thickness":1.2,"clip":true},"encoding":{"y":{"field":"lo","type":"quantitative","scale":{"domain":[-0.25,0.25],"nice":false,"zero":false},"axis":null}}},
{"mark":{"type":"tick","orient":"horizontal","size":6,"thickness":1.2,"clip":true},"encoding":{"y":{"field":"hi","type":"quantitative","scale":{"domain":[-0.25,0.25],"nice":false,"zero":false},"axis":null}}},
{"mark":{"type":"line","strokeWidth":1.5,"clip":true},"encoding":{"y":{"field":"y","type":"quantitative","scale":{"domain":[-0.25,0.25],"nice":false,"zero":false},"axis":null}}}]},
{"data":{"name":"b_s"},"transform":[{"filter":"datum.s=='in, monthly'"}],"encoding":{"x":{"field":"x","type":"quantitative","scale":{"type":"log","domain":[4.5e-9,3.3e-3],"nice":false},"axis":null},"color":{"value":"#a3005c"}},
"layer":[
{"mark":{"type":"rule","strokeWidth":1.2,"clip":true},"encoding":{"y":{"field":"lo","type":"quantitative","scale":{"domain":[-0.25,0.25],"nice":false,"zero":false},"axis":null},"y2":{"field":"hi"}}},
{"mark":{"type":"tick","orient":"horizontal","size":6,"thickness":1.2,"clip":true},"encoding":{"y":{"field":"lo","type":"quantitative","scale":{"domain":[-0.25,0.25],"nice":false,"zero":false},"axis":null}}},
{"mark":{"type":"tick","orient":"horizontal","size":6,"thickness":1.2,"clip":true},"encoding":{"y":{"field":"hi","type":"quantitative","scale":{"domain":[-0.25,0.25],"nice":false,"zero":false},"axis":null}}},
{"mark":{"type":"line","strokeWidth":1.5,"clip":true},"encoding":{"y":{"field":"y","type":"quantitative","scale":{"domain":[-0.25,0.25],"nice":false,"zero":false},"axis":null}}}]},
{"data":{"name":"b_s"},"mark":{"type":"point","shape":"triangle-down","filled":true,"size":55,"opacity":1,"strokeWidth":1,"clip":true},
"encoding":{"x":{"field":"x","type":"quantitative","scale":{"type":"log","domain":[4.5e-9,3.3e-3],"nice":false},"axis":null},"y":{"field":"y","type":"quantitative","scale":{"domain":[-0.25,0.25],"nice":false,"zero":false},"axis":null},
"fill":{"field":"s","type":"nominal","scale":{"domain":["in, daily","in, weekly","in, monthly"],"range":["#df9ff3","#ff14c8","#a3005c"]},"legend":{"title":null,"orient":"none","legendX":71.5,"legendY":8,"symbolType":"M-2.5,0L2.5,0M-0.8,-0.55L0.8,-0.55L0,0.75Z","labelOffset":11}},
"stroke":{"field":"s","type":"nominal","scale":{"domain":["in, daily","in, weekly","in, monthly"],"range":["#df9ff3","#ff14c8","#a3005c"]},"legend":{"title":null,"orient":"none","legendX":71.5,"legendY":8,"symbolType":"M-2.5,0L2.5,0M-0.8,-0.55L0.8,-0.55L0,0.75Z","labelOffset":11}}}},
{"data":{"name":"b_s"},"mark":{"type":"point","opacity":0},
"encoding":{"x":{"field":"x","type":"quantitative","scale":{"type":"log","domain":[4.5e-9,3.3e-3],"nice":false},"axis":{"orient":"top","values":[5e-9,6e-9,7e-9,8e-9,9e-9,1e-8,2e-8,3e-8,4e-8,5e-8,6e-8,7e-8,8e-8,9e-8,1e-7,2e-7,3e-7,4e-7,5e-7,6e-7,7e-7,8e-7,9e-7,1e-6,2e-6,3e-6,4e-6,5e-6,6e-6,7e-6,8e-6,9e-6,1e-5,2e-5,3e-5,4e-5,5e-5,6e-5,7e-5,8e-5,9e-5,1e-4,2e-4,3e-4,4e-4,5e-4,6e-4,7e-4,8e-4,9e-4,1e-3,2e-3,3e-3],"labels":false,"tickSize":-3,"title":null}},
"y":{"field":"y","type":"quantitative","scale":{"domain":[-0.25,0.25],"nice":false,"zero":false},"axis":{"orient":"right","values":[-0.25,-0.2,-0.15,-0.1,-0.05,0,0.05,0.1,0.15,0.2],"labels":false,"tickSize":-4,"title":null}}}}
],
"resolve":{"axis":{"x":"independent","y":"independent"}}},
{"width":202,"height":226,
"title":{"text":"(c)","dx":-15,"dy":12,"baseline":"middle","offset":0},
"layer":[
{"data":{"name":"c_out"},"mark":{"type":"area","color":"#dc9cf2","opacity":0.4,"interpolate":"monotone","clip":true},
"encoding":{"x":{"field":"x","type":"quantitative","scale":{"type":"log","domain":[5.3e-9,3.8e-3],"nice":false},"axis":null},"y":{"field":"up","type":"quantitative","scale":{"domain":[-0.25,0.25],"nice":false,"zero":false},"axis":null},"y2":{"field":"lo"}}},
{"data":{"name":"c_core"},"mark":{"type":"area","color":"#dc9cf2","opacity":0.6,"interpolate":"monotone","clip":true},
"encoding":{"x":{"field":"x","type":"quantitative","scale":{"type":"log","domain":[5.3e-9,3.8e-3],"nice":false},"axis":null},"y":{"field":"up","type":"quantitative","scale":{"domain":[-0.25,0.25],"nice":false,"zero":false},"axis":null},"y2":{"field":"lo"}}},
{"data":{"name":"c_pts"},"mark":{"type":"point","shape":"square","filled":true,"size":7,"color":"#dc98f2","opacity":0.9,"clip":true},
"encoding":{"x":{"field":"x","type":"quantitative","scale":{"type":"log","domain":[5.3e-9,3.8e-3],"nice":false},
"axis":{"orient":"bottom","values":[6e-9,7e-9,8e-9,9e-9,1e-8,2e-8,3e-8,4e-8,5e-8,6e-8,7e-8,8e-8,9e-8,1e-7,2e-7,3e-7,4e-7,5e-7,6e-7,7e-7,8e-7,9e-7,1e-6,2e-6,3e-6,4e-6,5e-6,6e-6,7e-6,8e-6,9e-6,1e-5,2e-5,3e-5,4e-5,5e-5,6e-5,7e-5,8e-5,9e-5,1e-4,2e-4,3e-4,4e-4,5e-4,6e-4,7e-4,8e-4,9e-4,1e-3,2e-3,3e-3],"labelExpr":"datum.value==1e-8?'10⁻⁸':datum.value==1e-7?'10⁻⁷':datum.value==1e-6?'10⁻⁶':datum.value==1e-5?'10⁻⁵':datum.value==1e-4?'10⁻⁴':datum.value==1e-3?'10⁻³':''","tickSize":-3,"labelPadding":11,"title":"⟨p⟩τ","titlePadding":6}},
"y":{"field":"y","type":"quantitative","scale":{"domain":[-0.25,0.25],"nice":false,"zero":false},
"axis":{"orient":"left","values":[-0.25,-0.2,-0.15,-0.1,-0.05,0,0.05,0.1,0.15,0.2],"labels":false,"tickSize":-4,"title":null}}}},
{"data":{"values":[{}]},"mark":{"type":"rule","color":"#555","strokeWidth":1.3},"encoding":{"y":{"datum":0,"type":"quantitative","scale":{"domain":[-0.25,0.25],"nice":false,"zero":false},"axis":null}}},
{"data":{"name":"c_s"},"transform":[{"filter":"datum.s=='out, daily'"}],"encoding":{"x":{"field":"x","type":"quantitative","scale":{"type":"log","domain":[5.3e-9,3.8e-3],"nice":false},"axis":null},"color":{"value":"#df9ff3"}},
"layer":[
{"mark":{"type":"rule","strokeWidth":1.2,"clip":true},"encoding":{"y":{"field":"lo","type":"quantitative","scale":{"domain":[-0.25,0.25],"nice":false,"zero":false},"axis":null},"y2":{"field":"hi"}}},
{"mark":{"type":"tick","orient":"horizontal","size":6,"thickness":1.2,"clip":true},"encoding":{"y":{"field":"lo","type":"quantitative","scale":{"domain":[-0.25,0.25],"nice":false,"zero":false},"axis":null}}},
{"mark":{"type":"tick","orient":"horizontal","size":6,"thickness":1.2,"clip":true},"encoding":{"y":{"field":"hi","type":"quantitative","scale":{"domain":[-0.25,0.25],"nice":false,"zero":false},"axis":null}}},
{"mark":{"type":"line","strokeWidth":1.5,"clip":true},"encoding":{"y":{"field":"y","type":"quantitative","scale":{"domain":[-0.25,0.25],"nice":false,"zero":false},"axis":null}}}]},
{"data":{"name":"c_s"},"transform":[{"filter":"datum.s=='out, weekly'"}],"encoding":{"x":{"field":"x","type":"quantitative","scale":{"type":"log","domain":[5.3e-9,3.8e-3],"nice":false},"axis":null},"color":{"value":"#ff14c8"}},
"layer":[
{"mark":{"type":"rule","strokeWidth":1.2,"clip":true},"encoding":{"y":{"field":"lo","type":"quantitative","scale":{"domain":[-0.25,0.25],"nice":false,"zero":false},"axis":null},"y2":{"field":"hi"}}},
{"mark":{"type":"tick","orient":"horizontal","size":6,"thickness":1.2,"clip":true},"encoding":{"y":{"field":"lo","type":"quantitative","scale":{"domain":[-0.25,0.25],"nice":false,"zero":false},"axis":null}}},
{"mark":{"type":"tick","orient":"horizontal","size":6,"thickness":1.2,"clip":true},"encoding":{"y":{"field":"hi","type":"quantitative","scale":{"domain":[-0.25,0.25],"nice":false,"zero":false},"axis":null}}},
{"mark":{"type":"line","strokeWidth":1.5,"clip":true},"encoding":{"y":{"field":"y","type":"quantitative","scale":{"domain":[-0.25,0.25],"nice":false,"zero":false},"axis":null}}}]},
{"data":{"name":"c_s"},"transform":[{"filter":"datum.s=='out, monthly'"}],"encoding":{"x":{"field":"x","type":"quantitative","scale":{"type":"log","domain":[5.3e-9,3.8e-3],"nice":false},"axis":null},"color":{"value":"#a3005c"}},
"layer":[
{"mark":{"type":"rule","strokeWidth":1.2,"clip":true},"encoding":{"y":{"field":"lo","type":"quantitative","scale":{"domain":[-0.25,0.25],"nice":false,"zero":false},"axis":null},"y2":{"field":"hi"}}},
{"mark":{"type":"tick","orient":"horizontal","size":6,"thickness":1.2,"clip":true},"encoding":{"y":{"field":"lo","type":"quantitative","scale":{"domain":[-0.25,0.25],"nice":false,"zero":false},"axis":null}}},
{"mark":{"type":"tick","orient":"horizontal","size":6,"thickness":1.2,"clip":true},"encoding":{"y":{"field":"hi","type":"quantitative","scale":{"domain":[-0.25,0.25],"nice":false,"zero":false},"axis":null}}},
{"mark":{"type":"line","strokeWidth":1.5,"clip":true},"encoding":{"y":{"field":"y","type":"quantitative","scale":{"domain":[-0.25,0.25],"nice":false,"zero":false},"axis":null}}}]},
{"data":{"name":"c_s"},"mark":{"type":"point","shape":"triangle-up","filled":true,"size":55,"opacity":1,"strokeWidth":1,"clip":true},
"encoding":{"x":{"field":"x","type":"quantitative","scale":{"type":"log","domain":[5.3e-9,3.8e-3],"nice":false},"axis":null},"y":{"field":"y","type":"quantitative","scale":{"domain":[-0.25,0.25],"nice":false,"zero":false},"axis":null},
"fill":{"field":"s","type":"nominal","scale":{"domain":["out, daily","out, weekly","out, monthly"],"range":["#df9ff3","#ff14c8","#a3005c"]},"legend":{"title":null,"orient":"none","legendX":68.5,"legendY":8,"symbolType":"M-2.5,0L2.5,0M-0.8,0.55L0.8,0.55L0,-0.75Z","labelOffset":10.5}},
"stroke":{"field":"s","type":"nominal","scale":{"domain":["out, daily","out, weekly","out, monthly"],"range":["#df9ff3","#ff14c8","#a3005c"]},"legend":{"title":null,"orient":"none","legendX":68.5,"legendY":8,"symbolType":"M-2.5,0L2.5,0M-0.8,0.55L0.8,0.55L0,-0.75Z","labelOffset":10.5}}}},
{"data":{"name":"c_s"},"mark":{"type":"point","opacity":0},
"encoding":{"x":{"field":"x","type":"quantitative","scale":{"type":"log","domain":[5.3e-9,3.8e-3],"nice":false},"axis":{"orient":"top","values":[6e-9,7e-9,8e-9,9e-9,1e-8,2e-8,3e-8,4e-8,5e-8,6e-8,7e-8,8e-8,9e-8,1e-7,2e-7,3e-7,4e-7,5e-7,6e-7,7e-7,8e-7,9e-7,1e-6,2e-6,3e-6,4e-6,5e-6,6e-6,7e-6,8e-6,9e-6,1e-5,2e-5,3e-5,4e-5,5e-5,6e-5,7e-5,8e-5,9e-5,1e-4,2e-4,3e-4,4e-4,5e-4,6e-4,7e-4,8e-4,9e-4,1e-3,2e-3,3e-3],"labels":false,"tickSize":-3,"title":null}},
"y":{"field":"y","type":"quantitative","scale":{"domain":[-0.25,0.25],"nice":false,"zero":false},"axis":{"orient":"right","values":[-0.25,-0.2,-0.15,-0.1,-0.05,0,0.05,0.1,0.15,0.2],"labels":false,"tickSize":-4,"title":null}}}}
],
"resolve":{"axis":{"x":"independent","y":"independent"}}}
]
}
